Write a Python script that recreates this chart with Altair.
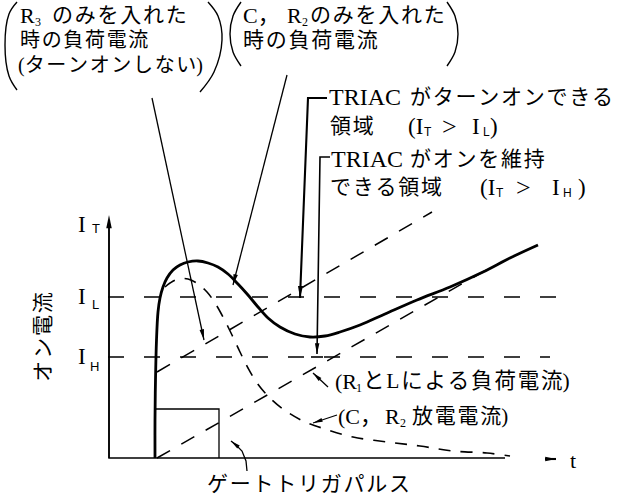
import math
import pandas as pd
import altair as alt

# Diagram coordinates: t runs right from the vertical axis, i runs up from
# the time axis (one unit per pixel of the drawing).
T_MIN, T_MAX = -108, 509
I_MIN, I_MAX = -39, 458

I_L = 161   # latching current
I_H = 101   # holding current
IL_END, IH_END = 467, 442

# TRIAC on-current (bold curve)
MAIN_T = [47, 47, 47.5, 48.5, 50, 52, 55, 59, 65, 72, 80, 90, 100, 110, 120, 130,
          140, 150, 160, 172, 187, 202, 217, 232, 252, 277, 309, 342, 375, 402, 430]
MAIN_I = [0, 38, 78, 118, 146, 160, 171, 180, 188, 193, 196, 197, 195, 191, 184, 174,
          163, 151, 140, 131, 124, 121, 122, 126, 133, 144, 158, 171, 186, 200, 213]

# C, R2 discharge current
DECAY_T = [57, 62, 70, 80, 90, 99, 107, 115, 124, 132, 140, 149, 160, 175, 195, 217,
           245, 279, 312, 345, 379, 402]
DECAY_I = [171, 175, 179, 179, 174, 166, 155, 141, 123, 106, 90, 75, 62, 49, 37, 29,
           21, 16, 12, 7, 5, 2]

# load current with R3 only, and load current through R1 and L
R3_T, R3_I = [49, 324], [86, 246]
RL_T, RL_I = [49, 387], [0, 193]

# gate trigger pulse
GATE_T = [47, 47, 111, 111]
GATE_I = [0, 49, 49, 0]

# both axes as one corner path: up the current axis, along the time axis
AXES = ([1, 1, 397], [238, 0, 0])

# pointer arrows (tail ... tip), grouped by line weight; last value is head size
ARROWS_THIN = {
    "r3_only": ([44, 96], [360, 118], 81),
    "c_r2_only": ([179, 125], [383, 173], 81),
    "r1_l": ([220, 205], [71, 85], 64),
    "discharge": ([229, 205], [43, 35], 64),
    "gate_note": ([139, 138, 134, 128, 123], [-13, -3, 7, 13, 17], 64),
}
ARROWS_MID = {
    "hold": ([222, 212, 209], [301, 301, 104], 81),
}
ARROWS_BOLD = {
    "turn_on": ([219, 200, 192], [360, 360, 160], 100),
    "t_dir": ([437, 448], [-1, -1], 81),
}
# head of the current axis: (tail, tip) only sets the direction
AXIS_HEAD = {"axis_i": ([1, 1], [230, 243], 120)}
HOLD_BAR = ([203, 215], [101, 101])

# bracket parentheses around the two upper notes
PARENS = {
    "p1l": ([-91, -99, -103, -99, -91], [456, 444, 413, 382, 368]),
    "p1r": ([100, 110, 114, 106, 92], [456, 442, 418, 386, 366]),
    "p2l": ([133, 125, 122, 125, 133], [456, 442, 424, 406, 392]),
    "p2r": ([339, 347, 350, 347, 339], [456, 442, 424, 406, 392]),
}

HS = "\u200a"


def tracked(s):
    return HS.join(s)


# text pieces: (text, t, i, size)
TEXT_R3 = [("R", -88, 442, 22), ("3", -73, 436, 12), (tracked("のみを入れた"), -56, 442, 21),
           (tracked("時の負荷電流"), -88, 417, 20), ("(" + tracked("ターンオンしない") + ")", -90, 392, 20)]
TEXT_CR2 = [("C，", 135, 442, 22), ("R", 179, 442, 22), ("2", 194, 436, 12),
            (tracked("のみを入れた"), 202, 442, 21), (tracked("時の負荷電流"), 135, 417, 21)]
TEXT_ON = [("TRIAC", 221, 360, 24), (tracked("がターンオンできる"), 302, 360, 21),
           (tracked("領域"), 222, 331, 21), ("(I", 300, 331, 23),
           (">", 334, 331, 26), ("I", 364, 331, 23), (")", 382, 331, 23)]
TEXT_HOLD = [("TRIAC", 223, 298, 24), (tracked("がオンを維持"), 302, 298, 21),
             (tracked("できる領域"), 222, 270, 21), ("(I", 372, 270, 23),
             (">", 408, 270, 26), ("I", 444, 270, 23), (")", 470, 270, 23)]
TEXT_AXIS = [("I", -30, 233, 23), ("I", -30, 161, 23), ("I", -30, 101, 23), ("t", 462, -3, 22)]
TEXT_LOWER = [("(R", 227, 76, 22), ("1", 248, 70, 12), (tracked("とLによる負荷電流") + ")", 255, 76, 21.5),
              ("(C，", 230, 41, 22), ("R", 277, 41, 22), ("2", 292, 35, 12),
              (tracked("放電電流") + ")", 304, 41, 21),
              (tracked("ゲートトリガパルス"), 99, -27, 21)]
TEXT_VERTICAL = [(tracked("オン電流"), -64, 121, 21)]
# sans-serif subscript letters of the current symbols
TEXT_SUBS = [("T", -16, 229, 13), ("L", -16, 153, 13), ("H", -18, 91, 13),
             ("T", 316, 326, 12), ("L", 375, 326, 12),
             ("T", 388, 265, 12), ("H", 455, 265, 12)]

FONT = "'Liberation Serif', 'Noto Sans CJK JP', serif"
SANS = "'Liberation Sans', sans-serif"
HEAD = "M0,0L-0.5,2.4L0.5,2.4Z"

XS = alt.Scale(domain=[T_MIN, T_MAX], nice=False, zero=False)
YS = alt.Scale(domain=[I_MIN, I_MAX], nice=False, zero=False)


def frame(paths):
    rows = []
    for name, spec in paths.items():
        ts, is_ = spec[0], spec[1]
        for k, (t, i) in enumerate(zip(ts, is_)):
            rows.append({"path": name, "k": k, "t": t, "i": i})
    return pd.DataFrame(rows)


def enc(chart):
    return chart.encode(
        x=alt.X("t:Q", scale=XS, axis=None),
        y=alt.Y("i:Q", scale=YS, axis=None),
    )


def lines(df, width, dash=None, interp="linear"):
    kw = dict(color="black", interpolate=interp, strokeCap="butt",
              strokeJoin="miter", strokeWidth=width)
    if dash:
        kw["strokeDash"] = dash
    return enc(alt.Chart(df).mark_line(**kw)).encode(detail="path:N", order="k:Q")


def heads(groups):
    rows = []
    for name, (ts, is_, size) in groups.items():
        dt, di = ts[-1] - ts[-2], is_[-1] - is_[-2]
        ang = math.degrees(math.atan2(dt, di)) % 360
        rows.append({"path": name, "t": ts[-1], "i": is_[-1], "ang": ang, "size": size})
    return pd.DataFrame(rows)


def text_frame(items):
    return pd.DataFrame([{"label": s, "t": t, "i": i, "size": z} for s, t, i, z in items])


def texts(df, font, **kw):
    return enc(alt.Chart(df).mark_text(baseline="middle", font=font, color="black", **kw)).encode(
        text="label:N",
        size=alt.Size("size:Q", scale=None, legend=None),
    )


all_heads = {**ARROWS_THIN, **ARROWS_MID, **ARROWS_BOLD, **AXIS_HEAD}

layers = [
    texts(text_frame(TEXT_R3 + TEXT_CR2 + TEXT_ON + TEXT_HOLD + TEXT_AXIS + TEXT_LOWER),
          FONT, align="left"),
    texts(text_frame(TEXT_SUBS), SANS, align="left"),
    texts(text_frame(TEXT_VERTICAL), FONT, align="center", angle=270),
    lines(frame({"il": ([0, IL_END], [I_L, I_L]), "ih": ([0, IH_END], [I_H, I_H])}), 1.6, [16, 20]),
    lines(frame({"r3": (R3_T, R3_I), "rl": (RL_T, RL_I)}), 1.5, [15, 13]),
    lines(frame({"decay": (DECAY_T, DECAY_I)}), 1.6, [12, 10], "catmull-rom"),
    lines(frame({"axes": AXES}), 1.5),
    lines(frame({"gate": (GATE_T, GATE_I)}), 1.3),
    lines(frame(ARROWS_THIN), 1.3),
    lines(frame({**ARROWS_MID, "bar": HOLD_BAR}), 1.6),
    lines(frame(ARROWS_BOLD), 2.1),
    lines(frame(PARENS), 1.4, None, "catmull-rom"),
    lines(frame({"main": (MAIN_T, MAIN_I)}), 2.8, None, "catmull-rom"),
    enc(alt.Chart(heads(all_heads)).mark_point(shape=HEAD, filled=True, color="black",
                                                 strokeWidth=0, opacity=1)).encode(
        angle=alt.Angle("ang:Q", scale=None),
        size=alt.Size("size:Q", scale=None, legend=None),
    ),
    # current axis line, placed at the time origin of the frame
    alt.Chart(pd.DataFrame({"axis": ["i"]})).mark_rule(color="black", strokeWidth=1.5).encode(
        x=alt.value(109), y=alt.value(221), y2=alt.value(458)),
]

chart = alt.layer(*layers).properties(
    width=617, height=497, padding=0,
    autosize=alt.AutoSizeParams(type="none"),
    background="white",
).configure_view(stroke=None)

chart.save("out.html", embed_options={"renderer": "svg", "actions": False})
